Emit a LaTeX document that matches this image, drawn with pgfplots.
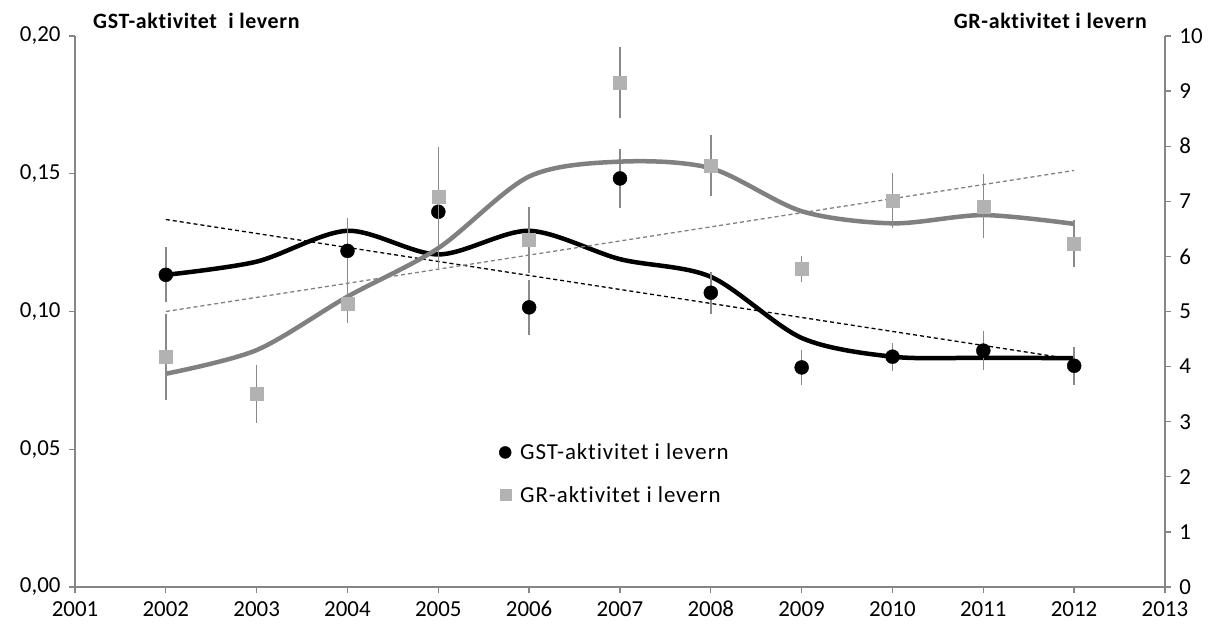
\documentclass[border=0pt]{standalone}
\usepackage{pgfplots}
\pgfplotsset{compat=1.18}
\usepackage{fontspec}
\setmainfont{Carlito}[Ligatures=NoCommon]
\definecolor{axisgray}{RGB}{134,134,134}
\definecolor{curvegray}{RGB}{128,128,128}
\definecolor{sqgray}{RGB}{178,178,178}
\definecolor{errgray}{RGB}{137,137,137}

\pgfplotstableread{
x y e
2002 0.1133 0.0100
2004 0.1220 0.0120
2005 0.1362 0.0205
2006 0.1015 0.0100
2007 0.1483 0.0108
2008 0.1068 0.0076
2009 0.0797 0.0062
2010 0.0836 0.0051
2011 0.0858 0.0070
2012 0.0803 0.0068
}\gst
\pgfplotstableread{
x y e
2002 4.18 0.78
2003 3.50 0.52
2004 5.15 0.36
2005 7.08 0.91
2006 6.30 0.60
2007 9.16 0.64
2008 7.65 0.56
2009 5.77 0.23
2010 7.01 0.50
2011 6.91 0.58
2012 6.23 0.43
}\gr
\pgfplotstableread{
x y
2002 0.1133
2003 0.1181
2004 0.1293
2005 0.1207
2006 0.1293
2007 0.1190
2008 0.1126
2009 0.0904
2010 0.0836
2011 0.0832
2012 0.0831
}\gstcurve
\pgfplotstableread{
x y
2002 3.87
2003 4.30
2004 5.27
2005 6.15
2006 7.45
2007 7.72
2008 7.60
2009 6.82
2010 6.60
2011 6.75
2012 6.59
}\grcurve

\pgfplotsset{
  common/.style={
    width=1090bp, height=551bp, scale only axis,
    xmin=2001, xmax=2013,
    axis line style={axisgray, line width=1.3bp},
    tick style={axisgray, line width=1.3bp},
    tick align=outside, major tick length=6bp,
    tick label style={font=\fontsize{23}{27}\selectfont},
    /pgf/number format/assume math mode=true,
    clip=false,
  }
}

\begin{document}
\begin{tikzpicture}
\useasboundingbox (-75bp,-45bp) rectangle (1150bp,587bp);
\begin{axis}[common,
  axis x line*=bottom, axis y line*=left,
  ymin=0, ymax=0.2,
  ytick={0,0.05,0.1,0.15,0.2},
  scaled y ticks=false,
  yticklabel style={/pgf/number format/.cd, fixed, fixed zerofill, precision=2, use comma},
  xtick={2001,2002,...,2013},
  xticklabel style={/pgf/number format/1000 sep={}, text height=16bp, text depth=0bp},
  xticklabel shift=4bp,
  yticklabel shift=5bp,
  legend style={at={(0.389,0.264)}, anchor=north west, draw=none, fill=none,
    font=\fontsize{23}{27}\selectfont\addfontfeature{LetterSpace=4}, row sep=21bp, inner sep=0pt,
    /tikz/every odd column/.append style={column sep=7bp}},
  legend cell align=left,
]
\addplot[black, dashed, dash pattern=on 4bp off 3bp, line width=1.3bp, forget plot] coordinates {(2002,0.1334) (2012,0.0826)};
\addplot[black, line width=4.5bp, smooth, forget plot] table[x=x,y=y] {\gstcurve};
\addplot[only marks, mark=*, mark size=7bp, black, forget plot,
  error bars/.cd, y dir=both, y explicit, error mark=none,
  error bar style={errgray, line width=1.6bp}]
  table[x=x, y=y, y error=e] {\gst};
\addlegendimage{only marks, mark=*, mark size=6bp, black}
\addlegendentry{GST-aktivitet i levern}
\addlegendimage{only marks, mark=square*, mark size=5.5bp, sqgray, mark options={draw=sqgray, fill=sqgray}}
\addlegendentry{GR-aktivitet i levern}
\node[anchor=base west, font=\bfseries\fontsize{22}{25}\selectfont\addfontfeature{LetterSpace=3}, inner sep=0pt] at (rel axis cs:0.0165,1.0145) {GST-aktivitet\ \ i levern};
\end{axis}
\begin{axis}[common,
  axis x line=none, axis y line*=right,
  ymin=0, ymax=10,
  ytick={0,1,...,10},
  yticklabel shift=5bp,
]
\addplot[curvegray, dashed, dash pattern=on 4bp off 3bp, line width=1.3bp] coordinates {(2002,5.0) (2012,7.56)};
\addplot[curvegray, line width=4.5bp, smooth] table[x=x,y=y] {\grcurve};
\addplot[only marks, mark=square*, mark size=6.5bp, sqgray, mark options={draw=sqgray, fill=sqgray},
  error bars/.cd, y dir=both, y explicit, error mark=none,
  error bar style={errgray, line width=1.6bp}]
  table[x=x, y=y, y error=e] {\gr};
\node[anchor=base east, font=\bfseries\fontsize{22}{25}\selectfont\addfontfeature{LetterSpace=3}, inner sep=0pt] at (rel axis cs:0.9835,1.0145) {GR-aktivitet i levern};
\end{axis}
\end{tikzpicture}
\end{document}
